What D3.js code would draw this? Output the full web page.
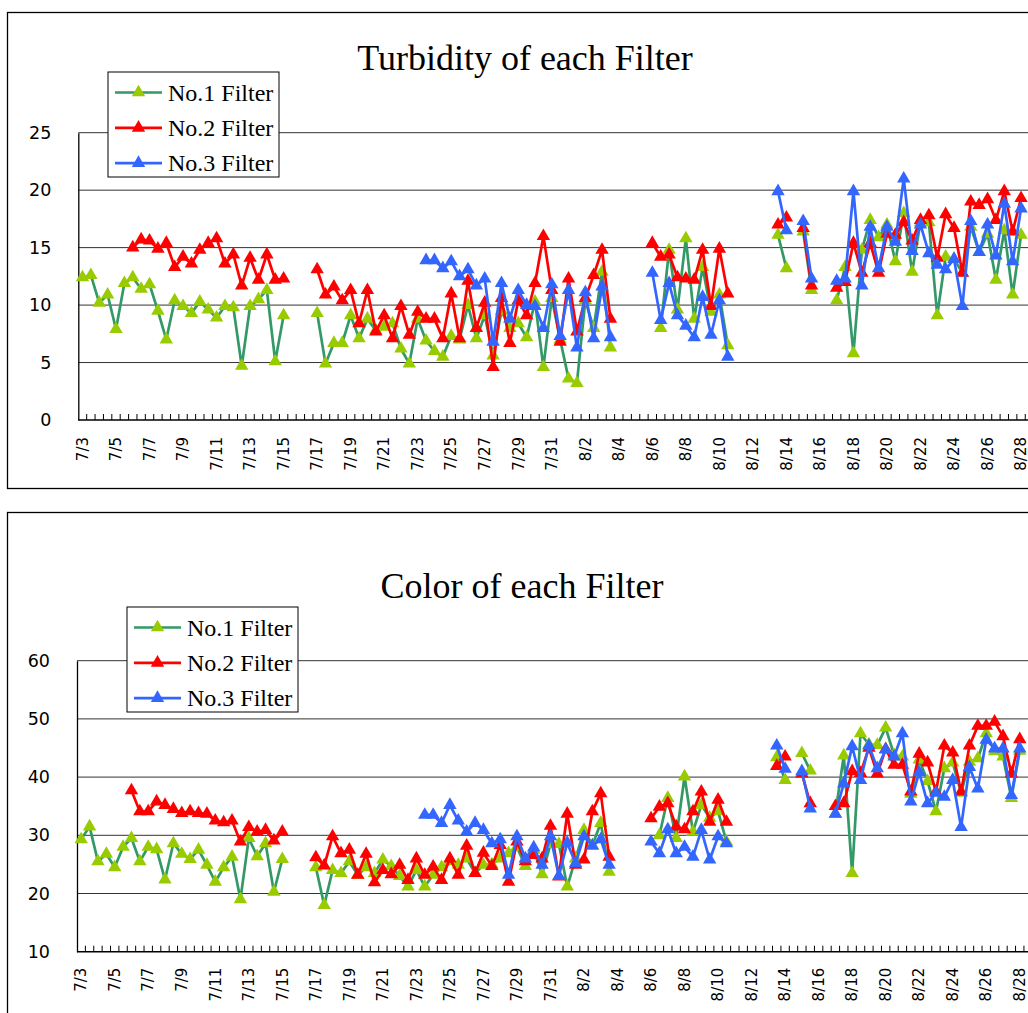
<!DOCTYPE html>
<html>
<head>
<meta charset="utf-8">
<script src="https://cdn.jsdelivr.net/npm/d3@7"></script>
<style>
  body { margin: 0; background: #fff; }
</style>
</head>
<body>
<div id="chart"></div>
<script>
// sampling days, two readings per day (AM / PM)
const days = [
  "7/3","7/4","7/5","7/6","7/7","7/8","7/9","7/10","7/11","7/12","7/13","7/14","7/15","7/16",
  "7/17","7/18","7/19","7/20","7/21","7/22","7/23","7/24","7/25","7/26","7/27","7/28","7/29",
  "7/30","7/31","8/1","8/2","8/3","8/4","8/5","8/6","8/7","8/8","8/9","8/10","8/11","8/12",
  "8/13","8/14","8/15","8/16","8/17","8/18","8/19","8/20","8/21","8/22","8/23","8/24","8/25",
  "8/26","8/27","8/28","8/29","8/30","8/31"
];
const categories = days.flatMap(d => [d + " AM", d + " PM"]);

const tickLabels = [
  "7/3","7/5","7/7","7/9","7/11","7/13","7/15","7/17","7/19","7/21","7/23","7/25","7/27","7/29",
  "7/31","8/2","8/4","8/6","8/8","8/10","8/12","8/14","8/16","8/18","8/20","8/22","8/24","8/26",
  "8/28"
];

const seriesNames = ["No.1 Filter", "No.2 Filter", "No.3 Filter"];

// Turbidity (one pair per day: AM, PM)
const turbidityNo1 = [
  12.4,12.6, 10.2,10.9, 7.9,11.9, 12.4,11.4, 11.8,9.5, 7.0,10.4, 9.9,9.3, 10.3,9.6, 8.9,9.9,
  9.8,4.7, 9.9,10.5, 11.3,5.1, 9.1,null, null,null, 9.3,4.9, 6.7,6.7, 9.1,7.1, 8.8,7.8,
  8.1,8.4, 6.2,4.9, 8.8,6.9, 6.0,5.5, 7.3,7.0, 10.0,7.1, 9.1,5.6, 9.5,8.0, 8.4,7.2, 10.3,4.6,
  10.6,7.0, 3.6,3.2, 10.4,8.0, 12.9,6.3, null,null, null,null, null,8.0, 14.8,9.6, 15.8,8.8,
  13.3,9.4, 10.9,6.5, null,null, null,null, null,16.1, 13.2,null, 16.4,11.3, null,null,
  10.4,13.3, 5.8,14.8, 17.4,15.9, 17.0,13.8, 18.0,12.9, 17.2,17.2, 9.1,14.2, 14.0,12.8,
  16.8,14.6, 16.2,12.2, 16.5,10.9, 16.1
];
const turbidityNo2 = [
  null,null, null,null, null,null, 15.0,15.7, 15.6,14.9, 15.4,13.3, 14.2,13.6, 14.8,15.4,
  15.8,13.6, 14.4,11.7, 14.1,12.2, 14.4,12.2, 12.3,null, null,null, 13.1,10.9, 11.6,10.4,
  11.3,8.4, 11.3,7.7, 9.1,7.1, 9.9,7.4, 9.4,8.8, 8.8,7.1, 11.0,7.1, 12.1,8.0, 10.2,4.6,
  10.6,6.7, 10.4,9.1, 11.9,16.0, 11.3,6.8, 12.3,7.7, 10.6,12.6, 14.8,8.8, null,null, null,null,
  15.4,14.2, 14.4,12.4, 12.3,12.2, 14.8,9.9, 14.9,11.0, null,null, null,null, null,17.0,
  17.6,null, 16.7,11.7, null,null, 11.5,12.0, 15.4,12.8, 15.4,12.8, 16.2,16.1, 17.2,15.6,
  17.4,17.8, 14.1,17.9, 16.7,12.8, 19.0,18.7, 19.2,17.4, 19.9,16.4, 19.3
];
const turbidityNo3 = [
  null,null, null,null, null,null, null,null, null,null, null,null, null,null, null,null,
  null,null, null,null, null,null, null,null, null,null, null,null, null,null, null,null,
  null,null, null,null, null,null, null,null, null,13.9, 13.9,13.2, 13.8,12.5, 13.1,11.7,
  12.3,6.8, 11.9,8.8, 11.3,10.0, 9.9,8.0, 11.8,7.3, 11.3,6.3, 11.1,7.1, 11.6,7.2, null,null,
  null,null, 12.8,8.7, 11.9,9.1, 8.2,7.2, 10.7,7.4, 10.4,5.5, null,null, null,null, null,19.9,
  16.5,null, 17.3,12.3, null,null, 12.1,12.3, 19.9,11.7, 16.8,13.2, 16.8,15.5, 21.0,14.7,
  17.0,14.5, 13.5,13.1, 14.0,9.9, 17.3,14.6, 17.0,14.3, 18.8,13.8, 18.4
];

// Color (one pair per day: AM, PM)
const colorNo1 = [
  29.3,31.5, 25.5,26.8, 24.5,28.0, 29.5,25.5, 28.0,27.6, 22.4,28.6, 26.8,25.9, 27.5,24.9,
  22.0,24.5, 26.3,19.0, 29.5,26.4, 28.6,20.3, 25.9,null, null,null, 24.5,18.0, 24.0,23.5,
  25.5,23.2, 24.5,23.5, 25.8,24.7, 23.0,21.2, 24.0,21.2, 23.2,24.5, 25.5,24.9, 26.0,23.5,
  24.9,25.0, 26.0,26.9, 28.0,24.7, 27.5,23.3, 28.5,28.5, 21.2,26.0, 30.9,28.3, 32.1,23.7,
  null,null, null,null, null,30.0, 36.4,29.5, 40.1,30.6, 35.2,33.0, 34.1,28.9, null,null,
  null,null, null,43.4, 39.5,null, 44.1,41.1, null,null, 33.7,43.7, 23.5,47.5, 45.6,45.5,
  48.5,43.8, 43.5,37.1, 43.0,39.3, 34.1,41.5, 42.5,37.3, 42.6,43.2, 47.5,44.4, 43.5,36.4, 44.5
];
const colorNo2 = [
  null,null, null,null, null,null, 37.7,34.1, 34.1,35.8, 35.2,34.5, 33.8,34.1, 33.8,33.7,
  32.5,32.2, 32.5,28.9, 31.4,30.6, 30.9,29.1, 30.6,null, null,null, 26.2,24.8, 29.8,26.9,
  27.5,23.2, 26.8,21.9, 24.0,23.3, 24.9,22.3, 26.0,23.2, 24.6,22.3, 26.0,23.2, 28.2,23.5,
  27.0,24.7, 28.3,22.0, 28.9,25.5, 26.6,26.0, 31.6,22.9, 33.7,24.9, 25.8,34.1, 37.2,26.3,
  null,null, null,null, 32.9,34.9, 35.5,31.5, 31.0,34.1, 37.5,32.3, 36.1,32.3, null,null,
  null,null, null,41.9, 43.5,null, 40.6,35.5, null,null, 35.0,35.5, 41.0,40.7, 45.0,40.6,
  44.8,42.1, 42.1,37.5, 44.0,42.5, 37.5,45.4, 44.2,37.5, 45.4,48.8, 48.8,49.5, 47.0,40.6, 46.5
];
const colorNo3 = [
  null,null, null,null, null,null, null,null, null,null, null,null, null,null, null,null,
  null,null, null,null, null,null, null,null, null,null, null,null, null,null, null,null,
  null,null, null,null, null,null, null,null, null,33.5, 33.5,32.1, 35.2,32.5, 30.6,32.1,
  30.9,28.6, 29.3,23.2, 29.8,26.0, 27.9,24.9, 29.8,23.0, 28.7,25.2, 29.8,28.2, 29.3,24.9,
  null,null, null,null, 28.9,26.9, 31.0,26.9, 28.0,26.3, 30.9,25.8, 29.8,28.6, null,null,
  null,null, null,45.4, 41.4,null, 41.0,34.6, null,null, 33.7,38.9, 45.3,39.5, 45.4,41.5,
  44.7,43.5, 47.5,35.8, 40.8,35.5, 37.3,36.6, 39.5,31.4, 41.7,38.0, 46.4,44.9, 44.9,36.9, 44.9
];

const lineColors = ["#339966", "#ff0000", "#3366ff"];
const markerColors = ["#99cc00", "#ff0000", "#3366ff"];

const SERIF = "'Liberation Serif', 'Times New Roman', serif";
const SANS = "'DejaVu Sans', 'Liberation Sans', sans-serif";
const STEP = 8.38;

const svg = d3.select('#chart')
    .append('svg')
    .attr('width', 1028)
    .attr('height', 1013);

function drawPanel(cfg) {
    const g = svg.append('g');

    g.append('rect')
        .attr('x', 7.5).attr('y', cfg.frameTop)
        .attr('width', 1200).attr('height', cfg.frameHeight)
        .attr('fill', 'none').attr('stroke', '#000').attr('stroke-width', 1.3);

    const x = d3.scaleBand()
        .domain(categories)
        .range([cfg.left, cfg.left + categories.length * STEP]);
    const y = d3.scaleLinear()
        .domain(cfg.yDomain)
        .range([cfg.bottom, cfg.top]);
    const right = x.range()[1];
    const yTicks = y.ticks(5);

    // gridlines
    g.append('g').selectAll('line')
        .data(yTicks.slice(1))
        .enter().append('line')
        .attr('x1', cfg.left).attr('x2', right)
        .attr('y1', d => y(d)).attr('y2', d => y(d))
        .attr('stroke', '#333').attr('stroke-width', 1);

    // y axis
    g.append('g')
        .attr('transform', `translate(${cfg.left},0)`)
        .call(d3.axisLeft(y).tickValues(yTicks).tickSize(0).tickSizeOuter(0).tickPadding(27))
        .call(a => a.select('.domain').attr('stroke', '#000').attr('stroke-width', 1.3))
        .selectAll('text')
        .attr('font-family', SANS).attr('font-size', 17.5).attr('fill', '#000');

    // x axis line and minor ticks
    g.append('line')
        .attr('x1', cfg.left).attr('x2', right)
        .attr('y1', cfg.bottom).attr('y2', cfg.bottom)
        .attr('stroke', '#000').attr('stroke-width', 1.5);
    g.append('g').selectAll('line')
        .data(categories.slice(1))
        .enter().append('line')
        .attr('x1', d => x(d)).attr('x2', d => x(d))
        .attr('y1', cfg.bottom).attr('y2', cfg.bottom - 6)
        .attr('stroke', '#000').attr('stroke-width', 1);

    // x labels, rotated
    g.append('g')
        .attr('transform', `translate(0,${cfg.bottom})`)
        .call(d3.axisBottom(x)
            .tickValues(tickLabels.map(t => t + " AM"))
            .tickFormat(c => c.split(" ")[0])
            .tickSize(0))
        .call(a => a.select('.domain').remove())
        .selectAll('text')
        .attr('transform', 'rotate(-90)')
        .attr('x', -cfg.labelGap).attr('y', 0).attr('dy', '0.35em')
        .style('text-anchor', 'end')
        .attr('font-family', SANS).attr('font-size', 15).attr('fill', '#000');

    // series
    const cx = i => x(categories[i]) + x.bandwidth() / 2;
    const line = d3.line()
        .defined(d => d != null)
        .x((d, i) => cx(i))
        .y(d => y(d));
    const triangle = d3.symbol(d3.symbolTriangle, 78);

    cfg.series.forEach((values, k) => {
        g.append('path')
            .datum(values)
            .attr('d', line)
            .attr('fill', 'none')
            .attr('stroke', lineColors[k])
            .attr('stroke-width', 2.7)
            .attr('stroke-linejoin', 'round');
        g.append('g').selectAll('path')
            .data(values.map((v, i) => [i, v]).filter(d => d[1] != null))
            .enter().append('path')
            .attr('d', triangle)
            .attr('transform', d => `translate(${cx(d[0])},${y(d[1])})`)
            .attr('fill', markerColors[k]);
    });

    // title
    g.append('text')
        .attr('x', cfg.titleX).attr('y', cfg.titleY)
        .attr('text-anchor', 'middle')
        .attr('font-family', SERIF).attr('font-size', 36)
        .text(cfg.title);

    // legend
    const lg = g.append('g').attr('transform', `translate(${cfg.legendX},${cfg.legendY})`);
    lg.append('rect')
        .attr('width', 171).attr('height', 105)
        .attr('fill', '#fff').attr('stroke', '#000').attr('stroke-width', 1);
    seriesNames.forEach((name, k) => {
        const ly = 20.5 + k * 35.3;
        lg.append('line')
            .attr('x1', 7).attr('x2', 54).attr('y1', ly).attr('y2', ly)
            .attr('stroke', lineColors[k]).attr('stroke-width', 2.7);
        lg.append('path')
            .attr('d', triangle)
            .attr('transform', `translate(30.5,${ly})`)
            .attr('fill', markerColors[k]);
        lg.append('text')
            .attr('x', 60).attr('y', ly + 8)
            .attr('font-family', SERIF).attr('font-size', 24)
            .text(name);
    });
}

drawPanel({
    title: "Turbidity of each Filter",
    series: [turbidityNo1, turbidityNo2, turbidityNo3],
    yDomain: [0, 25],
    frameTop: 12.5, frameHeight: 476,
    left: 78.3, top: 132.7, bottom: 420,
    labelGap: 17,
    titleX: 525, titleY: 70,
    legendX: 108, legendY: 72
});

drawPanel({
    title: "Color of each Filter",
    series: [colorNo1, colorNo2, colorNo3],
    yDomain: [10, 60],
    frameTop: 512.5, frameHeight: 560,
    left: 77, top: 660.7, bottom: 951.7,
    labelGap: 16,
    titleX: 522, titleY: 598,
    legendX: 127, legendY: 607
});
</script>
</body>
</html>
